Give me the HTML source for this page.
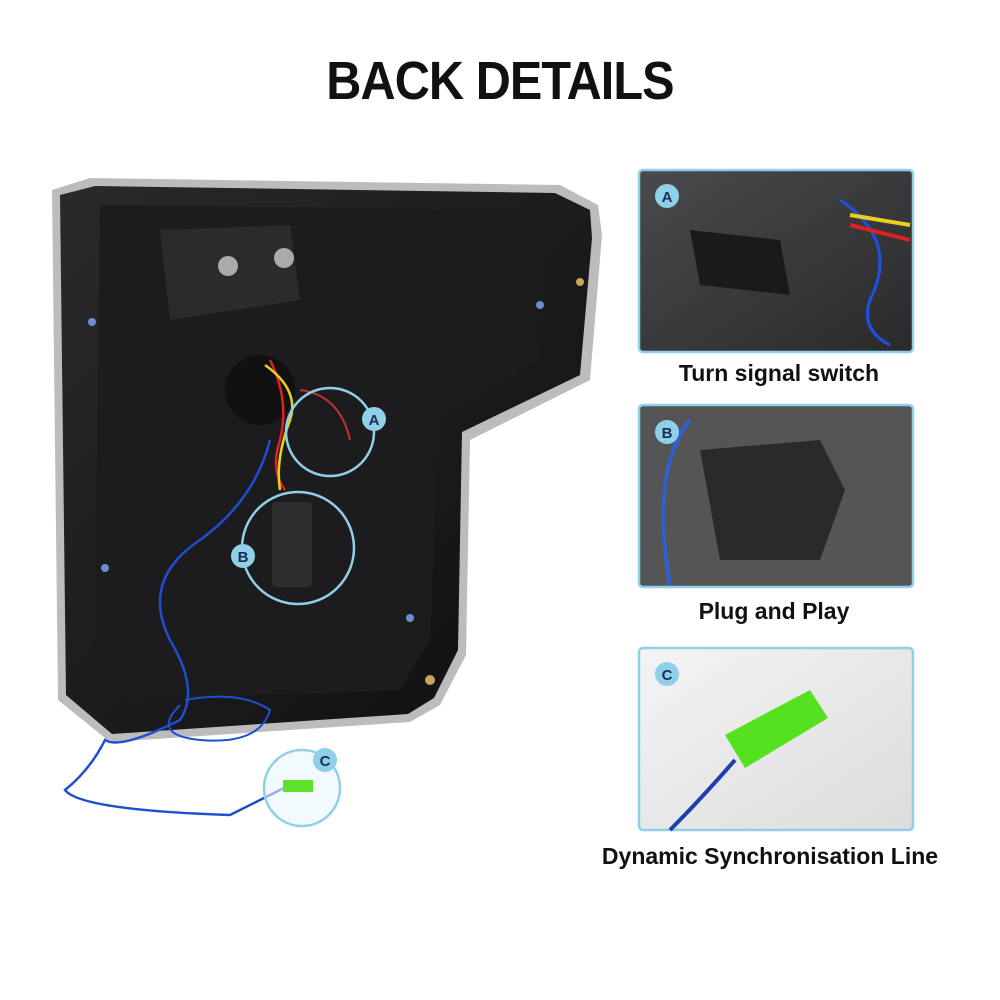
<!DOCTYPE html>
<html><head><meta charset="utf-8"><style>
html,body{margin:0;padding:0;background:#fff;width:1000px;height:1000px;overflow:hidden;font-family:"Liberation Sans",sans-serif}
.t{position:absolute;font-weight:bold;color:#111;text-align:center}
</style></head><body>
<div class="t" style="left:0;width:1000px;top:50px;font-size:54px;letter-spacing:-1px;transform:scaleX(0.9)">BACK DETAILS</div>
<svg width="1000" height="1000" style="position:absolute;left:0;top:0">
<defs>
<linearGradient id="g1" x1="0" y1="0" x2="1" y2="1"><stop offset="0" stop-color="#2a2a2c"/><stop offset="1" stop-color="#0e0e10"/></linearGradient>
<linearGradient id="pa" x1="0" y1="0" x2="1" y2="1"><stop offset="0" stop-color="#4a4a4c"/><stop offset="1" stop-color="#2a2a2c"/></linearGradient>
<linearGradient id="pc" x1="0" y1="0" x2="1" y2="1"><stop offset="0" stop-color="#f4f4f4"/><stop offset="1" stop-color="#dcdcdc"/></linearGradient>
</defs>
<path d="M52,190 L90,178 L560,185 L598,205 L602,235 L590,380 L470,440 L466,655 L440,705 L410,722 L110,742 L58,700 Z" fill="#bcbcbc"/>
<path d="M60,195 L95,186 L555,193 L590,210 L592,238 L580,375 L462,432 L458,650 L434,698 L408,714 L112,734 L66,695 Z" fill="url(#g1)"/>
<path d="M100,205 L520,210 L545,240 L540,360 L440,420 L430,640 L400,690 L130,700 L95,650 Z" fill="#1c1c1e"/>
<path d="M160,230 L290,225 L300,300 L170,320 Z" fill="#2b2b2d"/>
<circle cx="228" cy="266" r="10" fill="#aaa"/><circle cx="284" cy="258" r="10" fill="#aaa"/>
<circle cx="260" cy="390" r="35" fill="#111"/>
<circle cx="92" cy="322" r="4" fill="#6a8fd0"/><circle cx="540" cy="305" r="4" fill="#6a8fd0"/><circle cx="105" cy="568" r="4" fill="#6a8fd0"/><circle cx="410" cy="618" r="4" fill="#6a8fd0"/>
<circle cx="580" cy="282" r="4" fill="#c9a75a"/><circle cx="430" cy="680" r="5" fill="#c9a75a"/>
<path d="M270,360 Q290,400 280,440 Q270,470 285,490" stroke="#d22" stroke-width="2.5" fill="none"/>
<path d="M265,365 Q300,390 290,420 Q275,460 280,490" stroke="#e8d020" stroke-width="2.5" fill="none"/>
<path d="M300,390 Q340,395 350,440" stroke="#b33" stroke-width="2" fill="none"/>
<path d="M270,440 Q255,500 200,540 Q140,580 170,640 Q200,690 180,720 Q120,750 105,740 Q90,770 65,790 Q80,810 230,815 L290,785" stroke="#1e4fd0" stroke-width="2.5" fill="none"/>
<path d="M185,700 Q240,690 270,710 Q260,745 200,740 Q150,735 180,705" stroke="#1e4fd0" stroke-width="2" fill="none"/>
<rect x="272" y="502" width="40" height="85" rx="4" fill="#2e2e30"/>
<circle cx="330" cy="432" r="44" fill="none" stroke="#8fcfe8" stroke-width="2.5"/>
<circle cx="298" cy="548" r="56" fill="none" stroke="#8fcfe8" stroke-width="2.5"/>
<circle cx="302" cy="788" r="38" fill="#eaf6fb" fill-opacity="0.6" stroke="#8fcfe8" stroke-width="2.5"/>
<rect x="283" y="780" width="30" height="12" fill="#5fe02a"/>
<g font-family="Liberation Sans" font-weight="bold" font-size="15" fill="#1a2c5a" text-anchor="middle">
<circle cx="374" cy="419" r="12" fill="#8fcfe8"/><text x="374" y="425">A</text>
<circle cx="243" cy="556" r="12" fill="#8fcfe8"/><text x="243" y="562">B</text>
<circle cx="325" cy="760" r="12" fill="#8fcfe8"/><text x="325" y="766">C</text>
</g>
<rect x="639" y="170" width="274" height="182" rx="4" fill="url(#pa)" stroke="#8fcfe8" stroke-width="2.5"/>
<path d="M690,230 L780,240 L790,295 L700,285 Z" fill="#1a1a1a"/>
<path d="M840,200 Q900,240 870,300 Q860,330 890,345" stroke="#2050e0" stroke-width="3" fill="none"/>
<path d="M850,215 L910,225" stroke="#e8d020" stroke-width="4"/><path d="M850,225 L910,240" stroke="#d22" stroke-width="4"/>
<rect x="639" y="405" width="274" height="182" rx="4" fill="#555" stroke="#8fcfe8" stroke-width="2.5"/>
<path d="M700,450 L820,440 L845,490 L820,560 L720,560 Z" fill="#2a2a2a"/>
<path d="M690,420 Q650,470 670,585" stroke="#3060d0" stroke-width="4" fill="none"/>
<rect x="639" y="648" width="274" height="182" rx="4" fill="url(#pc)" stroke="#8fcfe8" stroke-width="2.5"/>
<path d="M725,735 L810,690 L828,718 L745,768 Z" fill="#55e020"/>
<path d="M735,760 Q700,800 670,830" stroke="#1e3fb0" stroke-width="4" fill="none"/>
<g font-family="Liberation Sans" font-weight="bold" font-size="15" fill="#1a2c5a" text-anchor="middle">
<circle cx="667" cy="196" r="12" fill="#8fcfe8"/><text x="667" y="202">A</text>
<circle cx="667" cy="432" r="12" fill="#8fcfe8"/><text x="667" y="438">B</text>
<circle cx="667" cy="674" r="12" fill="#8fcfe8"/><text x="667" y="680">C</text>
</g>
</svg>
<div class="t" style="left:639px;width:280px;top:360px;font-size:23px">Turn signal switch</div>
<div class="t" style="left:639px;width:270px;top:598px;font-size:23px">Plug and Play</div>
<div class="t" style="left:560px;width:420px;top:843px;font-size:23px">Dynamic Synchronisation Line</div>
</body></html>
